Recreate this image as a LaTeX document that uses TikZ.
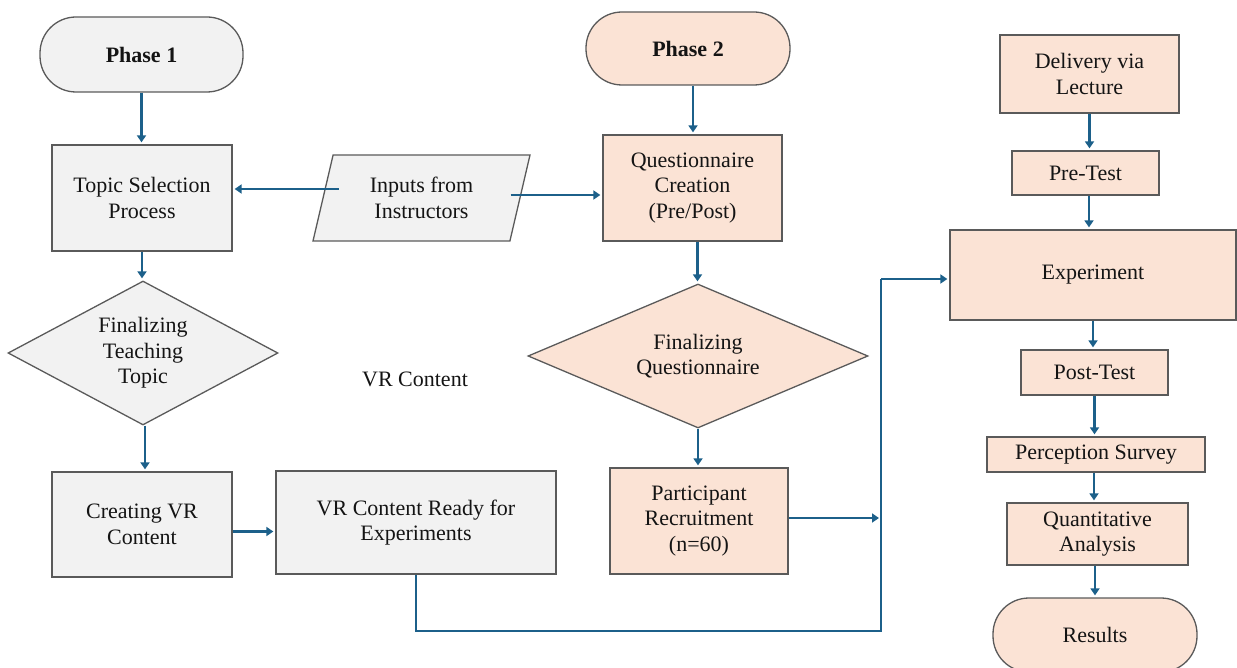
\documentclass[tikz,border=0pt]{standalone}
\usepackage{fontspec}
\setmainfont{Liberation Serif}
\usetikzlibrary{shapes.geometric,arrows.meta}

\definecolor{edgegrey}{HTML}{5A5A5A}
\definecolor{greyfill}{HTML}{F2F2F2}
\definecolor{peachfill}{HTML}{FBE3D5}
\definecolor{flowblue}{RGB}{28,96,138}
\definecolor{inktext}{HTML}{141414}

\tikzset{
  base/.style={draw=edgegrey, line width=1.3pt, align=center, inner sep=0pt,
               text=inktext, font=\fontsize{22}{25.5}\selectfont},
  gbox/.style={base, rectangle, fill=greyfill},
  pbox/.style={base, rectangle, fill=peachfill},
  term/.style={base, rectangle, rounded corners=36pt,
               font=\fontsize{22}{25.5}\selectfont\bfseries},
  decide/.style={base, diamond},
  flow/.style={draw=flowblue, line width=2.8pt},
  arr/.style={flow, -{Triangle[length=7pt,width=9pt]}, shorten >=2pt},
}

\begin{document}
\begin{tikzpicture}[x=1pt, y=-1pt]
  \useasboundingbox (0,0) rectangle (1237,668);
  \clip (0,0) rectangle (1237,668);

  % Phase 1 column
  \node[term, fill=greyfill, minimum width=203pt, minimum height=75pt] (p1) at (141.5,54.5) {Phase 1};
  \node[gbox, minimum width=180pt, minimum height=106pt] (topic) at (142,198) {Topic Selection\\Process};
  \node[decide, fill=greyfill, minimum width=270pt, minimum height=144pt, aspect=1.875] (ftopic) at (143,353) {Finalizing\\Teaching\\Topic};
  \node[gbox, minimum width=180pt, minimum height=105pt] (create) at (142,524.5) {Creating VR\\Content};
  \node[gbox, minimum width=280pt, minimum height=103pt] (ready) at (416,522.5) {VR Content Ready for\\Experiments};

  % instructor input
  \node[base, trapezium, trapezium left angle=64, trapezium right angle=116,
        trapezium stretches body, fill=greyfill, minimum width=217pt, minimum height=86pt] (inp) at (421.5,198) {Inputs from\\Instructors};

  \node[text=inktext, font=\fontsize{22}{25.5}\selectfont] (vrlabel) at (415,379) {VR Content};

  % Phase 2 column
  \node[term, fill=peachfill, minimum width=204pt, minimum height=73pt] (p2) at (688,48.5) {Phase 2};
  \node[pbox, minimum width=179pt, minimum height=106pt] (ques) at (692.5,188) {Questionnaire\\Creation\\(Pre/Post)};
  \node[decide, fill=peachfill, minimum width=340pt, minimum height=144pt, aspect=2.36] (fques) at (698,356) {Finalizing\\Questionnaire};
  \node[pbox, minimum width=178pt, minimum height=106pt] (part) at (699,521) {Participant\\Recruitment\\(n=60)};

  % experiment column
  \node[pbox, minimum width=179pt, minimum height=78pt] (deliv) at (1089.5,74) {Delivery via\\Lecture};
  \node[pbox, minimum width=147pt, minimum height=44pt] (pre) at (1085.5,173) {Pre-Test};
  \node[pbox, minimum width=286pt, minimum height=90pt] (exp) at (1093,275) {Experiment};
  \node[pbox, minimum width=147pt, minimum height=45pt] (post) at (1094.5,372.5) {Post-Test};
  \node[pbox, minimum width=218pt, minimum height=35pt] (perc) at (1096,454.5) {Perception Survey};
  \node[pbox, minimum width=181pt, minimum height=62pt] (quant) at (1097.5,534) {Quantitative\\Analysis};
  \node[term, fill=peachfill, font=\fontsize{22}{25.5}\selectfont, minimum width=204pt, minimum height=74pt] (res) at (1095,635) {Results};

  % exit points on the slanted sides of the input shape
  \coordinate (inL) at ([shift={(-83pt,9pt)}]inp.center);
  \coordinate (inR) at ([shift={(89pt,3pt)}]inp.center);

  % routing points of the merge line
  \coordinate (c1) at (416,631);
  \coordinate (c2) at (881,631);
  \coordinate (c3) at (881,279);

  % Phase 1 flow
  \draw[arr] (p1.south) -- (p1.south |- topic.north);
  \draw[arr] (topic.south) -- (topic.south |- ftopic.north);
  \draw[arr] ([xshift=2pt]ftopic.south) -- ([xshift=2pt]ftopic.south |- create.north);
  \draw[arr] ([yshift=-7pt]create.east) -- ([yshift=-7pt]create.east -| ready.west);
  \draw[arr] (inL) -- (inL -| topic.east);
  \draw[arr] (inR) -- (inR -| ques.west);

  % Phase 2 flow
  \draw[arr] ([xshift=5pt]p2.south) -- ([xshift=5pt]p2.south |- ques.north);
  \draw[arr] ([xshift=5pt]ques.south) -- ([xshift=5pt]ques.south |- fques.north);
  \draw[arr] (fques.south) -- (fques.south |- part.north);
  \draw[arr] ([yshift=3pt]part.east) -- ([yshift=3pt]part.east -| c2);

  % merge into the experiment
  \draw[flow] (ready.south) -- (c1) -- (c2) -- (c3);
  \draw[arr] (c3) -- (c3 -| exp.west);

  % experiment sequence
  \draw[arr] (deliv.south) -- (deliv.south |- pre.north);
  \draw[arr] ([xshift=3.5pt]pre.south) -- ([xshift=3.5pt]pre.south |- exp.north);
  \draw[arr] (exp.south) -- (exp.south |- post.north);
  \draw[arr] (post.south) -- (post.south |- perc.north);
  \draw[arr] ([xshift=-2pt]perc.south) -- ([xshift=-2pt]perc.south |- quant.north);
  \draw[arr] ([xshift=-2.5pt]quant.south) -- ([xshift=-2.5pt]quant.south |- res.north);
\end{tikzpicture}
\end{document}
